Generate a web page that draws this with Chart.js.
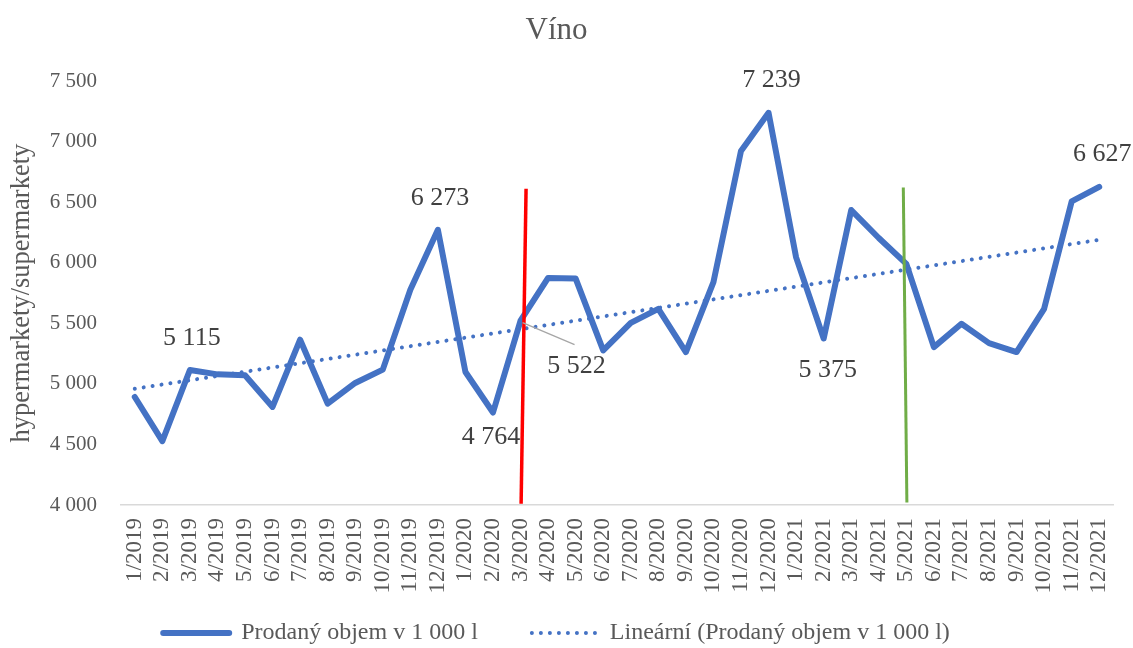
<!DOCTYPE html>
<html lang="cs">
<head>
    <meta charset="UTF-8">
    <title>Víno</title>
    <script src="https://cdn.jsdelivr.net/npm/chart.js"></script>
    <style>
        body {
            margin: 0;
            background: #ffffff;
        }

        .chart-box {
            width: 1133px;
            height: 648px;
        }
    </style>
</head>
<body>
    <div class="chart-box">
        <canvas id="wineChart"></canvas>
    </div>

    <script>
        const months = [
            '1/2019', '2/2019', '3/2019', '4/2019', '5/2019', '6/2019',
            '7/2019', '8/2019', '9/2019', '10/2019', '11/2019', '12/2019',
            '1/2020', '2/2020', '3/2020', '4/2020', '5/2020', '6/2020',
            '7/2020', '8/2020', '9/2020', '10/2020', '11/2020', '12/2020',
            '1/2021', '2/2021', '3/2021', '4/2021', '5/2021', '6/2021',
            '7/2021', '8/2021', '9/2021', '10/2021', '11/2021', '12/2021'
        ];
        const volumes = [
            4892, 4527, 5115, 5079, 5071, 4810, 5365, 4837, 5008, 5118, 5777, 6273,
            5098, 4764, 5522, 5875, 5870, 5277, 5504, 5620, 5263, 5840, 6924, 7239,
            6045, 5375, 6436, 6205, 5991, 5304, 5497, 5337, 5263, 5620, 6507, 6627
        ];
        // linear trend, read at first and last month
        const trendMonths = ['1/2019', '12/2021'];
        const trendValues = [4960, 6190];
        // vertical markers (month index, value) bottom -> top
        const redMarkerX = [14.02, 14.2];
        const redMarkerY = [4010, 6611];
        const greenMarkerX = [28.02, 27.89];
        const greenMarkerY = [4020, 6622];
        // months whose value is written on the chart
        const labeledMonths = [2, 11, 13, 14, 23, 25, 35];
        const yTicks = [4000, 4500, 5000, 5500, 6000, 6500, 7000, 7500];

        const serif = "'Liberation Serif', 'Times New Roman', serif";
        const blue = '#4472C4';

        function fmt(v) {
            return String(v).replace(/\B(?=(\d{3})+(?!\d))/g, ' ');
        }

        // where each value label sits relative to its point (px)
        const labelOffsets = {
            2: [2, -32], 11: [2, -32], 13: [-2, 25], 14: [56, 45],
            23: [3, -33], 25: [4, 32], 35: [3, -33]
        };

        const valueLabels = {
            id: 'valueLabels',
            afterDatasetsDraw(chart) {
                const ctx = chart.ctx;
                const meta = chart.getDatasetMeta(0);
                ctx.save();
                ctx.font = '26px ' + serif;
                ctx.fillStyle = '#404040';
                ctx.textAlign = 'center';
                ctx.textBaseline = 'middle';
                labeledMonths.forEach(i => {
                    const pt = meta.data[i];
                    const off = labelOffsets[i];
                    const lx = pt.x + off[0];
                    const ly = pt.y + off[1];
                    if (i === 14) {
                        ctx.strokeStyle = '#A6A6A6';
                        ctx.lineWidth = 1.3;
                        ctx.beginPath();
                        ctx.moveTo(pt.x + 2, pt.y + 2);
                        ctx.lineTo(lx - 2, ly - 21);
                        ctx.stroke();
                    }
                    ctx.fillText(fmt(volumes[i]), lx, ly);
                });
                ctx.restore();
            }
        };

        function markerData(xs, ys) {
            return xs.map((x, i) => ({ x: x, y: ys[i] }));
        }

        // legend entries only for the two series, drawn with the line style of each
        function legendItems(chart) {
            const items = Chart.defaults.plugins.legend.labels.generateLabels(chart)
                .filter(item => item.datasetIndex < 2)
                .map(item => {
                    const ds = chart.data.datasets[item.datasetIndex];
                    item.lineDash = ds.borderDash || [];
                    item.lineCap = 'round';
                    item.lineWidth = ds.borderWidth;
                    return item;
                });
            // wider gap between the two entries
            items[0].text += '\u2002\u2002\u2002';
            return items;
        }

        new Chart(document.getElementById('wineChart'), {
            type: 'line',
            data: {
                labels: months,
                datasets: [{
                    label: 'Prodaný objem v 1 000 l',
                    data: volumes,
                    borderColor: blue,
                    backgroundColor: blue,
                    borderWidth: 6,
                    borderCapStyle: 'round',
                    borderJoinStyle: 'round',
                    pointRadius: 0,
                    tension: 0
                }, {
                    label: 'Lineární (Prodaný objem v 1 000 l)',
                    data: trendMonths.map((m, i) => ({ x: m, y: trendValues[i] })),
                    borderColor: blue,
                    backgroundColor: blue,
                    borderWidth: 4,
                    borderDash: [0.01, 9],
                    borderCapStyle: 'round',
                    pointRadius: 0
                }, {
                    label: 'red',
                    data: markerData(redMarkerX, redMarkerY),
                    xAxisID: 'x2',
                    borderColor: '#FF0000',
                    borderWidth: 3.5,
                    pointRadius: 0,
                    order: -1
                }, {
                    label: 'green',
                    data: markerData(greenMarkerX, greenMarkerY),
                    xAxisID: 'x2',
                    borderColor: '#70AD47',
                    borderWidth: 3,
                    pointRadius: 0,
                    order: -1
                }]
            },
            options: {
                responsive: true,
                maintainAspectRatio: false,
                animation: false,
                layout: {
                    padding: { left: 0, right: 20, top: 0, bottom: -7 }
                },
                plugins: {
                    title: {
                        display: true,
                        text: 'Víno',
                        color: '#595959',
                        font: { family: serif, size: 31, weight: 'normal' },
                        padding: { top: 12, bottom: 32 }
                    },
                    legend: {
                        position: 'bottom',
                        labels: {
                            color: '#595959',
                            font: { family: serif, size: 24 },
                            usePointStyle: true,
                            pointStyle: 'line',
                            pointStyleWidth: 66,
                            padding: 18,
                            generateLabels: legendItems
                        }
                    },
                    tooltip: { enabled: false }
                },
                scales: {
                    x: {
                        offset: true,
                        grid: { display: false, drawTicks: false },
                        border: { display: true, color: '#D9D9D9', width: 1.5 },
                        ticks: {
                            autoSkip: false,
                            minRotation: 90,
                            maxRotation: 90,
                            padding: 13,
                            color: '#595959',
                            font: { family: serif, size: 23 }
                        },
                        afterFit: scale => {
                            scale.height = 98;
                            scale.paddingLeft = 0;
                            scale.paddingRight = 0;
                        }
                    },
                    x2: {
                        type: 'linear',
                        display: false,
                        min: -0.5,
                        max: 35.5
                    },
                    y: {
                        min: 4000,
                        max: 7500,
                        afterBuildTicks: scale => {
                            scale.ticks = yTicks.map(v => ({ value: v }));
                        },
                        grid: { display: false, drawTicks: false },
                        border: { display: false },
                        ticks: {
                            padding: 24,
                            color: '#595959',
                            font: { family: serif, size: 21 },
                            callback: v => fmt(v)
                        },
                        title: {
                            display: true,
                            text: 'hypermarkety/supermarkety',
                            color: '#595959',
                            font: { family: serif, size: 26.5 },
                            padding: { top: 6, bottom: 0 }
                        },
                        afterFit: scale => { scale.width = 121; }
                    }
                }
            },
            plugins: [valueLabels]
        });
    </script>
</body>
</html>
